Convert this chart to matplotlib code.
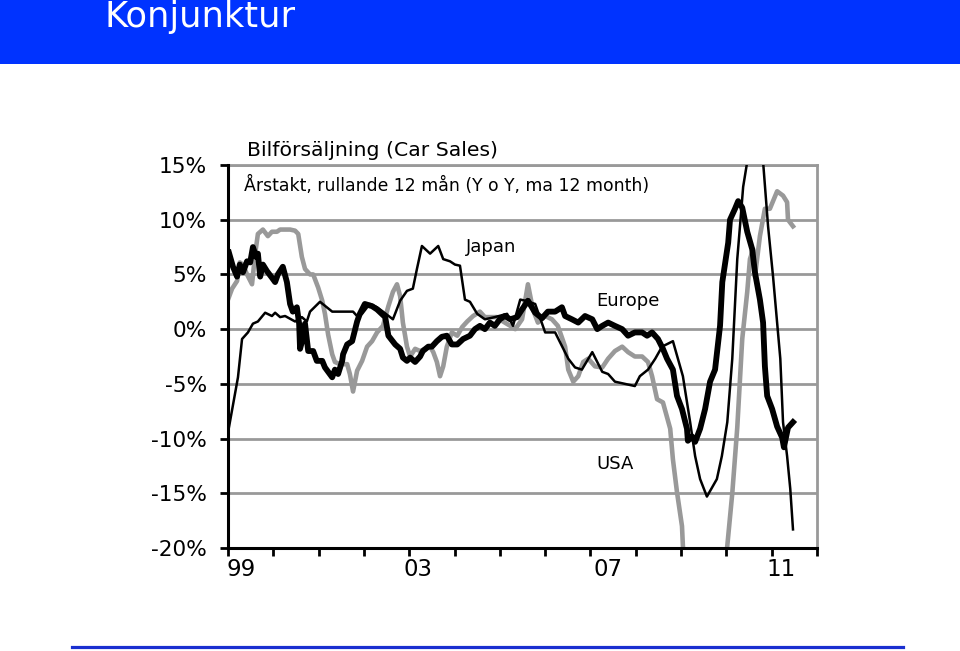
import matplotlib
matplotlib.use("Agg")
import matplotlib.pyplot as plt
from matplotlib.patches import Rectangle
from matplotlib.lines import Line2D

plt.rcParams['font.family'] = ['DejaVu Sans']

# ---------------- data (decimal year, % y/y, 12m rolling) ----------------
europe_t = [1999.02, 1999.11, 1999.20, 1999.26, 1999.33, 1999.42, 1999.49, 1999.55, 1999.62, 1999.66,
            1999.71, 1999.77, 1999.86, 1999.97, 2000.04, 2000.10, 2000.21, 2000.30, 2000.37, 2000.43,
            2000.52, 2000.57, 2000.59, 2000.66, 2000.70, 2000.77, 2000.88, 2000.96, 2001.08, 2001.14,
            2001.21, 2001.30, 2001.36, 2001.43, 2001.52, 2001.54, 2001.63, 2001.74, 2001.85, 2001.91,
            2002.02, 2002.18, 2002.29, 2002.47, 2002.54, 2002.69, 2002.80, 2002.86, 2002.95, 2003.02,
            2003.13, 2003.24, 2003.30, 2003.42, 2003.50, 2003.61, 2003.72, 2003.83, 2003.94, 2004.06,
            2004.19, 2004.34, 2004.45, 2004.56, 2004.67, 2004.78, 2004.89, 2005.00, 2005.11, 2005.23,
            2005.38, 2005.49, 2005.62, 2005.78, 2005.93, 2006.06, 2006.22, 2006.37, 2006.44, 2006.59,
            2006.73, 2006.88, 2007.04, 2007.15, 2007.26, 2007.39, 2007.54, 2007.70, 2007.83, 2007.98,
            2008.14, 2008.25, 2008.36, 2008.49, 2008.60, 2008.69, 2008.82, 2008.91, 2009.02, 2009.13,
            2009.15, 2009.24, 2009.31, 2009.42, 2009.53, 2009.64, 2009.75, 2009.86, 2009.91, 2010.04,
            2010.08, 2010.19, 2010.26, 2010.35, 2010.46, 2010.57, 2010.63, 2010.74, 2010.81, 2010.85,
            2010.90, 2011.01, 2011.12, 2011.23, 2011.27, 2011.34, 2011.36, 2011.47]
europe_v = [7.0, 5.7, 4.8, 5.9, 5.2, 6.2, 6.1, 7.5, 6.6, 6.9,
            4.8, 5.9, 5.3, 4.7, 4.3, 5.0, 5.7, 4.3, 2.3, 1.6,
            2.0, 0.5, -1.8, -0.7, 0.5, -2.0, -2.0, -2.9, -2.9, -3.5,
            -3.9, -4.4, -3.7, -4.1, -2.9, -2.3, -1.4, -1.1, 0.7, 1.4,
            2.3, 2.1, 1.8, 1.1, -0.6, -1.4, -1.8, -2.6, -2.9, -2.6,
            -3.0, -2.5, -2.0, -1.6, -1.6, -1.1, -0.7, -0.6, -1.4, -1.4,
            -0.9, -0.6, 0.0, 0.3, 0.0, 0.6, 0.3, 0.9, 1.2, 0.9,
            1.1, 1.8, 2.6, 1.5, 1.0, 1.6, 1.6, 2.0, 1.2, 0.9,
            0.6, 1.2, 0.9, 0.0, 0.3, 0.6, 0.3, 0.0, -0.6, -0.3,
            -0.3, -0.6, -0.3, -0.9, -1.8, -2.7, -3.7, -6.1, -7.3, -9.1,
            -10.2, -9.8, -10.3, -9.1, -7.3, -4.8, -3.7, 0.3, 4.3, 7.9,
            10.0, 11.0, 11.7, 11.1, 8.9, 7.3, 5.2, 2.7, 0.6, -3.4,
            -6.1, -7.3, -8.9, -9.9, -10.8, -9.4, -9.0, -8.5]

japan_t = [1999.02, 1999.22, 1999.31, 1999.44, 1999.55, 1999.66, 1999.82, 1999.97, 2000.04, 2000.15,
           2000.26, 2000.48, 2000.63, 2000.74, 2000.81, 2001.03, 2001.30, 2001.52, 2001.63, 2001.76,
           2001.87, 2001.96, 2002.09, 2002.13, 2002.29, 2002.42, 2002.64, 2002.80, 2002.95, 2003.08,
           2003.17, 2003.28, 2003.46, 2003.64, 2003.75, 2003.90, 2004.01, 2004.12, 2004.23, 2004.34,
           2004.50, 2004.67, 2004.89, 2005.16, 2005.29, 2005.45, 2005.56, 2005.78, 2006.00, 2006.22,
           2006.51, 2006.66, 2006.81, 2007.04, 2007.26, 2007.39, 2007.54, 2007.76, 2007.98, 2008.09,
           2008.27, 2008.43, 2008.58, 2008.82, 2009.04, 2009.20, 2009.31, 2009.42, 2009.57, 2009.79,
           2009.90, 2010.02, 2010.13, 2010.24, 2010.30, 2010.37, 2010.46, 2010.63, 2010.81, 2010.92,
           2011.03, 2011.19, 2011.25, 2011.34, 2011.41, 2011.47]
japan_v = [-9.0, -4.4, -0.9, -0.3, 0.5, 0.7, 1.5, 1.2, 1.5, 1.1,
           1.2, 0.7, 1.1, 0.7, 1.6, 2.5, 1.6, 1.6, 1.6, 1.6,
           1.1, 1.4, 2.1, 2.3, 2.0, 1.6, 0.9, 2.6, 3.5, 3.7,
           5.5, 7.6, 6.9, 7.6, 6.4, 6.2, 5.9, 5.8, 2.7, 2.5,
           1.4, 0.9, 1.1, 1.4, 0.3, 2.7, 2.6, 2.3, -0.3, -0.3,
           -2.7, -3.5, -3.7, -2.1, -3.9, -4.1, -4.8, -5.0, -5.2, -4.3,
           -3.7, -2.7, -1.6, -1.1, -4.3, -8.5, -11.6, -13.7, -15.3, -13.7,
           -11.6, -8.5, -2.7, 6.4, 9.4, 13.0, 15.3, 24.0, 15.3, 9.4,
           4.8, -2.7, -8.5, -11.6, -14.6, -18.3]

usa_t = [1999.00, 1999.09, 1999.20, 1999.26, 1999.33, 1999.42, 1999.53, 1999.60, 1999.66, 1999.77,
         1999.88, 1999.97, 2000.08, 2000.15, 2000.26, 2000.37, 2000.48, 2000.55, 2000.63, 2000.70,
         2000.81, 2000.88, 2000.99, 2001.08, 2001.14, 2001.21, 2001.30, 2001.36, 2001.47, 2001.63,
         2001.69, 2001.76, 2001.85, 2001.96, 2002.07, 2002.18, 2002.29, 2002.42, 2002.54, 2002.64,
         2002.73, 2002.80, 2002.86, 2002.95, 2003.02, 2003.13, 2003.24, 2003.35, 2003.46, 2003.53,
         2003.61, 2003.68, 2003.75, 2003.83, 2003.94, 2004.06, 2004.17, 2004.28, 2004.41, 2004.56,
         2004.67, 2004.78, 2004.94, 2005.07, 2005.23, 2005.34, 2005.49, 2005.62, 2005.73, 2005.84,
         2006.00, 2006.15, 2006.28, 2006.44, 2006.51, 2006.62, 2006.73, 2006.84, 2006.95, 2007.10,
         2007.26, 2007.39, 2007.54, 2007.70, 2007.83, 2007.98, 2008.14, 2008.27, 2008.36, 2008.47,
         2008.60, 2008.76, 2008.82, 2008.91, 2009.02, 2009.04, 2009.25, 2009.55, 2009.85, 2010.02,
         2010.13, 2010.24, 2010.35, 2010.46, 2010.52, 2010.59, 2010.63, 2010.74, 2010.85, 2010.96,
         2011.12, 2011.25, 2011.34, 2011.36, 2011.47]
usa_v = [2.7, 3.7, 4.4, 6.1, 5.9, 5.0, 4.1, 6.9, 8.7, 9.1,
         8.5, 8.9, 8.9, 9.1, 9.1, 9.1, 9.0, 8.7, 6.6, 5.5,
         5.0, 5.0, 3.8, 2.6, 1.4, -0.5, -2.3, -3.0, -3.2, -3.2,
         -4.1, -5.7, -3.8, -2.9, -1.6, -1.1, -0.3, 0.3, 2.1, 3.4,
         4.1, 3.0, 0.6, -1.6, -2.5, -1.8, -2.0, -1.8, -1.6, -2.1,
         -3.0, -4.3, -3.4, -1.6, -0.3, -0.6, 0.2, 0.7, 1.2, 1.6,
         1.1, 1.1, 1.1, 0.7, 0.3, 0.0, 0.9, 4.1, 1.8, 0.6,
         1.2, 0.9, 0.3, -1.6, -3.7, -4.8, -4.3, -3.0, -2.7, -3.4,
         -3.5, -2.7, -2.0, -1.6, -2.1, -2.5, -2.5, -3.0, -4.3, -6.4,
         -6.7, -9.1, -11.9, -14.9, -18.0, -19.8, -28.0, -32.0, -25.0, -19.8,
         -15.0, -9.0, -0.9, 3.4, 6.4, 7.3, 4.8, 8.5, 11.0, 11.0,
         12.6, 12.2, 11.6, 10.0, 9.4]

yticks = [-20, -15, -10, -5, 0, 5, 10, 15]
ytick_labels = ["-20%", "-15%", "-10%", "-5%", "0%", "5%", "10%", "15%"]
year_ticks = list(range(1999, 2013))
xlabel_pos = [1999.29, 2003.19, 2007.39, 2011.21]
xlabel_text = ["99", "03", "07", "11"]

# ---------------- figure ----------------
fig = plt.figure(figsize=(9.6, 6.51), dpi=100)
fig.patch.set_facecolor("white")

# header band
fig.patches.append(Rectangle((0, 1 - 64 / 651), 1, 64 / 651, transform=fig.transFigure,
                             facecolor="#0033FF", edgecolor="none", zorder=0))
fig.text(105 / 960, 1 - 27 / 651, "Konjunktur", color="white", fontsize=25.4,
         ha="left", va="baseline")
# footer line
fig.lines.append(Line2D([72 / 960, 903 / 960], [1 - 647 / 651, 1 - 647 / 651],
                        transform=fig.transFigure, color="#1a2fd0", lw=2.3))

ax = fig.add_axes([228 / 960, 1 - 548 / 651, (817 - 228) / 960, (548 - 165) / 651])
ax.set_xlim(1999, 2012)
ax.set_ylim(-20, 15)

grid_c = "#999999"
for v in yticks[1:]:
    ax.axhline(v, color=grid_c, lw=2.0, zorder=1)

ax.plot(usa_t, usa_v, color="#999999", lw=3.3, zorder=3)
ax.plot(japan_t, japan_v, color="black", lw=1.8, zorder=4)
ax.plot(europe_t, europe_v, color="black", lw=4.2, zorder=5)

ax.set_yticks(yticks)
ax.set_yticklabels(ytick_labels, fontsize=15.6)
ax.tick_params(axis="y", direction="out", length=6, width=2, pad=9, color="black")

ax.set_xticks(year_ticks)
ax.set_xticklabels([""] * len(year_ticks))
ax.tick_params(axis="x", which="major", direction="out", length=6, width=2, color="black")
ax.set_xticks(xlabel_pos, minor=True)
ax.set_xticklabels(xlabel_text, minor=True, fontsize=16.5)
ax.tick_params(axis="x", which="minor", length=0, pad=7)

for s in ["left", "bottom"]:
    ax.spines[s].set_color("black")
    ax.spines[s].set_linewidth(2.2)
    ax.spines[s].set_zorder(6)
for s in ["top", "right"]:
    ax.spines[s].set_color(grid_c)
    ax.spines[s].set_linewidth(2.0)

# series labels
ax.text(2004.8, 7.5, "Japan", fontsize=13, ha="center", va="center")
ax.text(2007.82, 2.56, "Europe", fontsize=13, ha="center", va="center")
ax.text(2007.55, -12.3, "USA", fontsize=13, ha="center", va="center")

# titles
fig.text(247 / 960, 1 - 150 / 651, "Bilförsäljning (Car Sales)", fontsize=14.7,
         ha="left", va="center")
fig.text(244 / 960, 1 - 185 / 651, "Årstakt, rullande 12 mån (Y o Y, ma 12 month)",
         fontsize=12.4, ha="left", va="center")

fig.savefig("out.png", dpi=100, facecolor="white")
